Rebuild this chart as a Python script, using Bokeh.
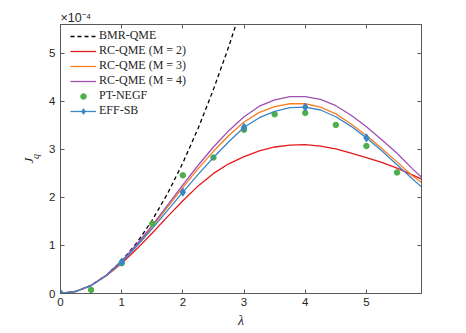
from bokeh.plotting import figure
from bokeh.models import (LinearAxis, FixedTicker, Range1d, Legend, LegendItem)
from bokeh.embed import file_html
from bokeh.resources import INLINE

# ---- data (J_q in units of 1e-4) ----
lam = [0, 0.25, 0.5, 0.75, 1.0, 1.25, 1.5, 1.75, 2.0, 2.25, 2.5, 2.75, 3.0,
       3.25, 3.5, 3.75, 4.0, 4.25, 4.5, 4.75, 5.0, 5.25, 5.5, 5.75, 5.9]
rc_m2 = [0, 0.042, 0.165, 0.37, 0.63, 0.93, 1.26, 1.60, 1.93, 2.24, 2.50, 2.70, 2.85,
         2.97, 3.05, 3.09, 3.10, 3.07, 3.01, 2.92, 2.83, 2.73, 2.61, 2.47, 2.38]
rc_m3 = [0, 0.042, 0.168, 0.38, 0.665, 1.01, 1.39, 1.80, 2.21, 2.60, 2.96, 3.29, 3.57,
         3.77, 3.89, 3.95, 3.95, 3.88, 3.74, 3.53, 3.29, 3.02, 2.74, 2.45, 2.31]
rc_m4 = [0, 0.043, 0.17, 0.385, 0.675, 1.03, 1.42, 1.84, 2.26, 2.67, 3.05, 3.39, 3.68,
         3.90, 4.03, 4.10, 4.10, 4.04, 3.91, 3.71, 3.47, 3.20, 2.92, 2.60, 2.42]
eff_sb = [0, 0.042, 0.166, 0.375, 0.655, 0.99, 1.35, 1.73, 2.11, 2.48, 2.83, 3.16, 3.46,
          3.66, 3.79, 3.87, 3.88, 3.82, 3.68, 3.48, 3.24, 2.97, 2.68, 2.39, 2.22]
bmr_lam = [0, 0.25, 0.5, 0.75, 1.0, 1.25, 1.5, 1.75, 2.0, 2.25, 2.5, 2.75, 3.0]
bmr_qme = [0, 0.0425, 0.17, 0.38, 0.68, 1.06, 1.53, 2.08, 2.72, 3.44, 4.25, 5.14, 6.12]
eff_mark_lam = [0, 1, 2, 3, 4, 5]
eff_mark_val = [0, 0.655, 2.11, 3.46, 3.88, 3.24]
negf_lam = [0, 0.5, 1.0, 1.5, 2.0, 2.5, 3.0, 3.5, 4.0, 4.5, 5.0, 5.5]
negf_val = [0, 0.075, 0.63, 1.455, 2.46, 2.83, 3.41, 3.73, 3.76, 3.51, 3.07, 2.52]
x_ticks = [0, 1, 2, 3, 4, 5]
y_ticks = [0, 1, 2, 3, 4, 5]

RED, ORANGE, PURPLE, GREEN, BLUE = "#e41a1c", "#f57f20", "#a04fb0", "#4daf4a", "#3a85c6"
AX = "#5a5a5a"
TXT = "#262626"
SANS = "Liberation Sans"
SERIF = "Liberation Serif"

p = figure(width=466, height=333, output_backend="svg", toolbar_location=None,
           x_range=Range1d(0, 5.9), y_range=Range1d(0, 5.6),
           min_border_left=60, min_border_right=45, min_border_top=24, min_border_bottom=40)
p.background_fill_color = "white"
p.border_fill_color = "white"
p.outline_line_color = AX
p.outline_line_width = 1
p.xgrid.visible = False
p.ygrid.visible = False

# exponent marker above the axes
p.title.text = "×10⁻⁴"
p.title.align = "left"
p.title.text_font = SANS
p.title.text_font_style = "normal"
p.title.text_font_size = "12.5px"
p.title.text_color = TXT
p.title.standoff = 0

p.xaxis.ticker = FixedTicker(ticks=x_ticks)
p.yaxis.ticker = FixedTicker(ticks=y_ticks)
for ax in [p.xaxis[0], p.yaxis[0]]:
    ax.axis_line_color = AX
    ax.major_tick_line_color = AX
    ax.major_tick_in = 4
    ax.major_tick_out = 0
    ax.minor_tick_line_color = None
    ax.major_label_text_font = SANS
    ax.major_label_text_font_size = "11.5px"
    ax.major_label_text_color = TXT
p.xaxis.major_label_standoff = 4
p.yaxis.major_label_standoff = 5
p.xaxis.axis_label = "λ"
p.xaxis.axis_label_text_font = SERIF
p.xaxis.axis_label_text_font_style = "italic"
p.xaxis.axis_label_text_font_size = "14px"
p.xaxis.axis_label_text_color = TXT
p.xaxis.axis_label_standoff = 4

# y label J_q : subscript "q" on the main axis, "J" on an outer blank axis
p.yaxis.axis_label = "\u00a0\u00a0q"
p.yaxis.axis_label_text_font = SERIF
p.yaxis.axis_label_text_font_style = "italic"
p.yaxis.axis_label_text_font_size = "10px"
p.yaxis.axis_label_text_color = TXT
p.yaxis.axis_label_standoff = 5

jax = LinearAxis(ticker=FixedTicker(ticks=[]))
jax.axis_line_color = None
jax.major_tick_line_color = None
jax.minor_tick_line_color = None
jax.major_label_text_font_size = "1px"
jax.major_label_standoff = 0
jax.axis_label = "J\u00a0"
jax.axis_label_text_font = SERIF
jax.axis_label_text_font_style = "italic"
jax.axis_label_text_font_size = "13px"
jax.axis_label_text_color = TXT
jax.axis_label_standoff = -8
p.add_layout(jax, "left")

top = LinearAxis(ticker=FixedTicker(ticks=x_ticks))
right = LinearAxis(ticker=FixedTicker(ticks=y_ticks))
for ax in [top, right]:
    ax.axis_line_color = AX
    ax.major_tick_line_color = AX
    ax.major_tick_in = 4
    ax.major_tick_out = 0
    ax.minor_tick_line_color = None
    ax.major_label_text_alpha = 0
    ax.major_label_text_font_size = "1px"
    ax.major_label_standoff = 0
p.add_layout(top, "above")
p.add_layout(right, "right")

r_bmr = p.line(bmr_lam, bmr_qme, line_color="black", line_width=1.3, line_dash="4 3")
r_m2 = p.line(lam, rc_m2, line_color=RED, line_width=1.3)
r_m3 = p.line(lam, rc_m3, line_color=ORANGE, line_width=1.3)
r_m4 = p.line(lam, rc_m4, line_color=PURPLE, line_width=1.3)
r_negf = p.scatter(negf_lam, negf_val, size=5.5, color=GREEN, marker="circle")
r_eff = p.line(lam, eff_sb, line_color=BLUE, line_width=1.3)
r_effm = p.scatter(eff_mark_lam, eff_mark_val, size=8, color=BLUE, marker="diamond")

legend = Legend(items=[
    LegendItem(label="BMR-QME", renderers=[r_bmr]),
    LegendItem(label="RC-QME (M = 2)", renderers=[r_m2]),
    LegendItem(label="RC-QME (M = 3)", renderers=[r_m3]),
    LegendItem(label="RC-QME (M = 4)", renderers=[r_m4]),
    LegendItem(label="PT-NEGF", renderers=[r_negf]),
    LegendItem(label="EFF-SB", renderers=[r_eff, r_effm]),
], location=(10, 175))
legend.border_line_alpha = 0
legend.background_fill_alpha = 0
legend.padding = 0
legend.margin = 0
legend.spacing = 0
legend.label_height = 14
legend.glyph_height = 14
legend.glyph_width = 26
legend.label_standoff = 3
legend.label_text_font = SERIF
legend.label_text_font_size = "12px"
legend.label_text_color = TXT
p.add_layout(legend, "center")

open("out.html", "w").write(file_html(p, INLINE))
